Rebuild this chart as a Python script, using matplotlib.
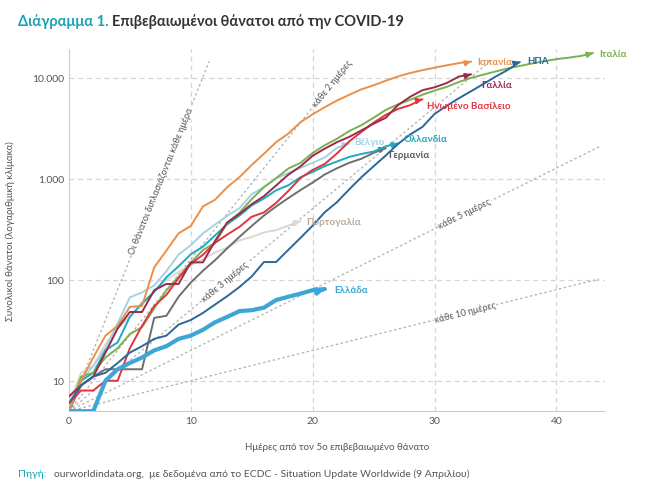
import numpy as np
import matplotlib
matplotlib.use('Agg')
import matplotlib.pyplot as plt

# ---- data (cumulative deaths, day 0 = 5th confirmed death) ----------------
italy = [5, 11, 12, 17, 21, 29, 34, 52, 79, 107, 148, 197, 233, 366, 463, 631, 827,
         1016, 1266, 1441, 1809, 2158, 2503, 2978, 3405, 4032, 4825, 5476, 6077,
         6820, 7503, 8165, 9134, 10023, 10779, 11591, 12428, 13155, 13915, 14681,
         15362, 15887, 16523, 17669]
spain = [5, 10, 17, 28, 35, 54, 55, 133, 195, 289, 342, 533, 623, 830, 1043, 1375,
         1772, 2311, 2808, 3647, 4365, 5138, 5982, 6803, 7716, 8464, 9387, 10348,
         11198, 11947, 12641, 13341, 14045, 14555]
usa = [6, 9, 11, 12, 15, 19, 22, 26, 28, 36, 40, 47, 57, 69, 85, 108, 150, 150, 198,
       260, 345, 468, 589, 788, 1040, 1333, 1705, 2216, 2756, 3267, 4400, 5300, 6300,
       7400, 8700, 10300, 12000, 14400]
france = [7, 9, 11, 19, 33, 48, 48, 79, 91, 91, 149, 149, 244, 372, 450, 562, 674, 860,
          1100, 1331, 1696, 1995, 2314, 2606, 3024, 3523, 4032, 5387, 6507, 7560,
          8078, 8911, 10328, 10869]
uk = [6, 8, 8, 10, 10, 21, 35, 55, 71, 104, 144, 177, 233, 281, 335, 422, 465, 578,
      759, 1019, 1228, 1408, 1789, 2352, 2921, 3605, 4313, 4934, 5373, 6159]
belgium = [5, 10, 14, 21, 37, 67, 75, 88, 122, 178, 220, 289, 353, 431, 513, 705, 828,
           1011, 1143, 1283, 1447, 1632, 2035, 2240]
netherlands = [5, 10, 12, 20, 24, 43, 58, 76, 106, 136, 179, 213, 276, 356, 434, 546,
               639, 771, 864, 1039, 1173, 1339, 1487, 1651, 1766, 1867, 2101, 2248]
germany = [5, 9, 11, 13, 13, 13, 13, 42, 44, 68, 94, 123, 157, 206, 267, 342, 433, 533,
           645, 775, 920, 1107, 1275, 1444, 1584, 1810, 2016]
portugal = [6, 12, 14, 23, 33, 43, 60, 76, 100, 119, 140, 160, 187, 209, 246, 266, 295,
            311, 345, 380]
greece = [5, 5, 5, 10, 13, 15, 17, 20, 22, 26, 28, 32, 38, 43, 49, 50, 53, 63, 68, 73,
          79, 81]

series = [
    # name, values, line colour, label colour, lw
    ("Πορτογαλία", portugal, "#dcd7cf", "#b8ab9a", 1.4),
    ("Βέλγιο", belgium, "#a3d3e0", "#a3d3e0", 1.4),
    ("Γερμανία", germany, "#6e6e6e", "#5a5a5a", 1.4),
    ("Ολλανδία", netherlands, "#1eaabf", "#1eaabf", 1.4),
    ("Ιταλία", italy, "#79b152", "#79b152", 1.4),
    ("Ισπανία", spain, "#e9914a", "#e9914a", 1.4),
    ("Ηνωμένο Βασίλειο", uk, "#e2343f", "#e2343f", 1.4),
    ("Γαλλία", france, "#9c2a4c", "#9c2a4c", 1.4),
    ("ΗΠΑ", usa, "#2b679b", "#2b679b", 1.4),
    ("Ελλάδα", greece, "#3ea6d6", "#3ea6d6", 3.0),
]
label_offsets = {  # (dx days, factor) from last point
    "Πορτογαλία": (0.5, 1.0), "Βέλγιο": (0.4, 1.05), "Γερμανία": (0.2, 0.86),
    "Ολλανδία": (0.5, 1.12), "Ιταλία": (0.5, 1.0), "Ισπανία": (0.5, 1.0),
    "Ηνωμένο Βασίλειο": (0.4, 0.87), "Γαλλία": (0.8, 0.8), "ΗΠΑ": (0.6, 1.04),
    "Ελλάδα": (0.8, 1.0),
}

doubling = [1, 2, 3, 5, 10]
doubling_labels = ["Οι θάνατοι διπλασιάζονται κάθε ημέρα", "κάθε 2 ημέρες",
                   "κάθε 3 ημέρες", "κάθε 5 ημέρες", "κάθε 10 ημέρες"]

plt.rcParams["font.family"] = "Lato"

fig = plt.figure(figsize=(6.5, 5.02), dpi=100)
ax = fig.add_axes([0.106, 0.179, 0.825, 0.722])
XMAX, YMIN, YMAX = 44, 5, 19500
ax.set_xlim(0, XMAX)
ax.set_yscale('log')
ax.set_ylim(YMIN, YMAX)

# doubling guide lines
ang = {1: 68, 2: 51, 3: 39.7, 5: 26.5, 10: 14}
lab_day = {1: 7.6, 2: 21.6, 3: 12.8, 5: 32.5, 10: 32.5}
for d, lab in zip(doubling, doubling_labels):
    xe = min(XMAX - 0.5, d * np.log2(YMAX * 0.75 / 5))
    xs = np.linspace(0, xe, 100)
    ax.plot(xs, 5 * 2 ** (xs / d), ls=(0, (2, 2)), color='#b0b0b0', lw=0.9, zorder=1)
    xd = lab_day[d]
    ax.text(xd, 5 * 2 ** (xd / d), lab, rotation=ang[d], fontsize=6.5, color='#555555',
            ha='center', va='center', rotation_mode='anchor', zorder=2,
            bbox=dict(facecolor='white', edgecolor='none', pad=0.5))

for name, vals, col, lcol, lw in series:
    x = np.arange(len(vals))
    ax.plot(x, vals, color=col, lw=lw, zorder=3, solid_capstyle='round')
    ax.annotate('', xy=(x[-1], vals[-1]), xytext=(x[-1] - 0.4, vals[-1] * 0.97),
                arrowprops=dict(arrowstyle='-|>', color=col, lw=lw,
                                mutation_scale=8), zorder=3)
    dx, f = label_offsets[name]
    ax.text(x[-1] + dx, vals[-1] * f, name, color=lcol, fontsize=7,
            fontweight='bold', va='center', ha='left', zorder=4)

ax.set_yticks([10, 100, 1000, 10000])
ax.set_yticklabels(["10", "100", "1.000", "10.000"])
ax.minorticks_off()
ax.set_xticks([0, 10, 20, 30, 40])
ax.tick_params(length=0, labelsize=7.5, colors='#555555')
ax.grid(True, ls=(0, (4, 3)), color='#d5d5d5', lw=0.9)
ax.set_axisbelow(True)
for s in ['top', 'right']:
    ax.spines[s].set_visible(False)
for s in ['left', 'bottom']:
    ax.spines[s].set_color('#cccccc')
ax.set_xlabel("Ημέρες από τον 5ο επιβεβαιωμένο θάνατο", fontsize=7, color='#555555',
              labelpad=12)
ax.set_ylabel("Συνολικοί θάνατοι (λογαριθμική κλίμακα)", fontsize=7, color='#555555',
              labelpad=12)

fig.text(0.028, 0.948, "Διάγραμμα 1.", color='#19a2b4', fontsize=10.5, fontweight='bold')
fig.text(0.172, 0.948, "Επιβεβαιωμένοι θάνατοι από την COVID-19", color='#333333',
         fontsize=10.5, fontweight='bold')
fig.text(0.028, 0.05, "Πηγή:", color='#19a2b4', fontsize=7.5)
fig.text(0.083, 0.05, "ourworldindata.org,  με δεδομένα από το ECDC - Situation Update "
         "Worldwide (9 Απριλίου)", color='#555555', fontsize=7.5)

fig.savefig("out.png", dpi=100)
